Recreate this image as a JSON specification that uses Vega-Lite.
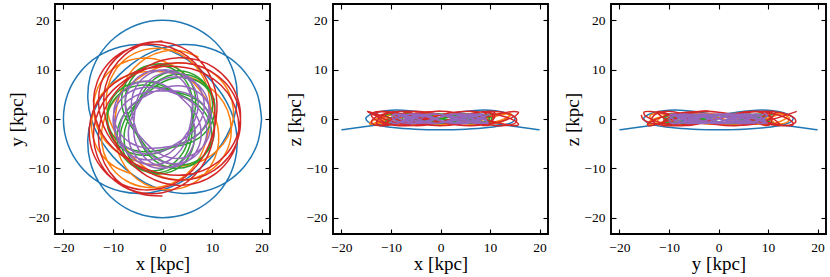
{
"$schema": "https://vega.github.io/schema/vega-lite/v6.json",
"padding": {"left": 6, "top": 2, "right": 0, "bottom": 0},
"background": "white",
"spacing": 63,
"bounds": "flush",
"config": {
  "font": "Liberation Serif",
  "style": {"guide-label": {"font": "Liberation Serif", "fill": "black"}, "guide-title": {"font": "Liberation Serif", "fill": "black"}},
  "view": {"stroke": "black", "strokeWidth": 1.9},
  "axis": {"grid": false, "domain": false, "tickColor": "black", "tickSize": -5, "tickWidth": 1.1, "labelFont": "Liberation Serif", "labelFontSize": 13.5, "labelColor": "black", "labelPadding": 11, "titleFont": "Liberation Serif", "titleFontSize": 19, "titleFontWeight": "normal", "titleColor": "black", "titlePadding": 1}
},
"data": {"values": [
{"o":"a","k":0,"x":20,"y":0,"z":-2.2},
{"o":"a","k":1,"x":19.11,"y":5.12,"z":-2.08},
{"o":"a","k":2,"x":16.56,"y":9.56,"z":-1.73},
{"o":"a","k":3,"x":12.82,"y":12.82,"z":-1.2},
{"o":"a","k":4,"x":8.45,"y":14.64,"z":-0.55},
{"o":"a","k":5,"x":4.04,"y":15.07,"z":0.15},
{"o":"a","k":6,"x":0,"y":14.38,"z":0.8},
{"o":"a","k":7,"x":-3.47,"y":12.93,"z":1.33},
{"o":"a","k":8,"x":-6.37,"y":11.02,"z":1.68},
{"o":"a","k":9,"x":-8.84,"y":8.84,"z":1.8},
{"o":"a","k":10,"x":-11.02,"y":6.37,"z":1.68},
{"o":"a","k":11,"x":-12.93,"y":3.47,"z":1.33},
{"o":"a","k":12,"x":-14.38,"y":0,"z":0.8},
{"o":"a","k":13,"x":-15.07,"y":-4.04,"z":0.15},
{"o":"a","k":14,"x":-14.64,"y":-8.45,"z":-0.55},
{"o":"a","k":15,"x":-12.82,"y":-12.82,"z":-1.2},
{"o":"a","k":16,"x":-9.56,"y":-16.56,"z":-1.73},
{"o":"a","k":17,"x":-5.12,"y":-19.11,"z":-2.08},
{"o":"a","k":18,"x":0,"y":-20,"z":-2.2},
{"o":"a","k":19,"x":5.12,"y":-19.11,"z":-2.08},
{"o":"a","k":20,"x":9.56,"y":-16.56,"z":-1.73},
{"o":"a","k":21,"x":12.82,"y":-12.82,"z":-1.2},
{"o":"a","k":22,"x":14.64,"y":-8.45,"z":-0.55},
{"o":"a","k":23,"x":15.07,"y":-4.04,"z":0.15},
{"o":"a","k":24,"x":14.38,"y":0,"z":0.8},
{"o":"a","k":25,"x":12.93,"y":3.47,"z":1.33},
{"o":"a","k":26,"x":11.02,"y":6.37,"z":1.68},
{"o":"a","k":27,"x":8.84,"y":8.84,"z":1.8},
{"o":"a","k":28,"x":6.37,"y":11.02,"z":1.68},
{"o":"a","k":29,"x":3.47,"y":12.93,"z":1.33},
{"o":"a","k":30,"x":0,"y":14.38,"z":0.8},
{"o":"a","k":31,"x":-4.04,"y":15.07,"z":0.15},
{"o":"a","k":32,"x":-8.45,"y":14.64,"z":-0.55},
{"o":"a","k":33,"x":-12.82,"y":12.82,"z":-1.2},
{"o":"a","k":34,"x":-16.56,"y":9.56,"z":-1.73},
{"o":"a","k":35,"x":-19.11,"y":5.12,"z":-2.08},
{"o":"a","k":36,"x":-20,"y":0,"z":-2.2},
{"o":"a","k":37,"x":-19.11,"y":-5.12,"z":-2.08},
{"o":"a","k":38,"x":-16.56,"y":-9.56,"z":-1.73},
{"o":"a","k":39,"x":-12.82,"y":-12.82,"z":-1.2},
{"o":"a","k":40,"x":-8.45,"y":-14.64,"z":-0.55},
{"o":"a","k":41,"x":-4.04,"y":-15.07,"z":0.15},
{"o":"a","k":42,"x":0,"y":-14.38,"z":0.8},
{"o":"a","k":43,"x":3.47,"y":-12.93,"z":1.33},
{"o":"a","k":44,"x":6.37,"y":-11.02,"z":1.68},
{"o":"a","k":45,"x":8.84,"y":-8.84,"z":1.8},
{"o":"a","k":46,"x":11.02,"y":-6.37,"z":1.68},
{"o":"a","k":47,"x":12.93,"y":-3.47,"z":1.33},
{"o":"a","k":48,"x":14.38,"y":0,"z":0.8},
{"o":"a","k":49,"x":15.07,"y":4.04,"z":0.15},
{"o":"a","k":50,"x":14.64,"y":8.45,"z":-0.55},
{"o":"a","k":51,"x":12.82,"y":12.82,"z":-1.2},
{"o":"a","k":52,"x":9.56,"y":16.56,"z":-1.73},
{"o":"a","k":53,"x":5.12,"y":19.11,"z":-2.08},
{"o":"a","k":54,"x":0,"y":20,"z":-2.2},
{"o":"a","k":55,"x":-5.12,"y":19.11,"z":-2.08},
{"o":"a","k":56,"x":-9.56,"y":16.56,"z":-1.73},
{"o":"a","k":57,"x":-12.82,"y":12.82,"z":-1.2},
{"o":"a","k":58,"x":-14.64,"y":8.45,"z":-0.55},
{"o":"a","k":59,"x":-15.07,"y":4.04,"z":0.15},
{"o":"a","k":60,"x":-14.38,"y":0,"z":0.8},
{"o":"a","k":61,"x":-12.93,"y":-3.47,"z":1.33},
{"o":"a","k":62,"x":-11.02,"y":-6.37,"z":1.68},
{"o":"a","k":63,"x":-8.84,"y":-8.84,"z":1.8},
{"o":"a","k":64,"x":-6.37,"y":-11.02,"z":1.68},
{"o":"a","k":65,"x":-3.47,"y":-12.93,"z":1.33},
{"o":"a","k":66,"x":0,"y":-14.38,"z":0.8},
{"o":"a","k":67,"x":4.04,"y":-15.07,"z":0.15},
{"o":"a","k":68,"x":8.45,"y":-14.64,"z":-0.55},
{"o":"a","k":69,"x":12.82,"y":-12.82,"z":-1.2},
{"o":"a","k":70,"x":16.56,"y":-9.56,"z":-1.73},
{"o":"a","k":71,"x":19.11,"y":-5.12,"z":-2.08},
{"o":"a","k":72,"x":20,"y":0,"z":-2.2},
{"o":"b","k":0,"x":7.25,"y":12.56,"z":1.1},
{"o":"b","k":1,"x":3.7,"y":13.8,"z":0.84},
{"o":"b","k":2,"x":0,"y":13.67,"z":0.19},
{"o":"b","k":3,"x":-3.31,"y":12.34,"z":-0.55},
{"o":"b","k":4,"x":-5.87,"y":10.17,"z":-1.03},
{"o":"b","k":5,"x":-7.6,"y":7.6,"z":-1.03},
{"o":"b","k":6,"x":-8.64,"y":4.99,"z":-0.55},
{"o":"b","k":7,"x":-9.23,"y":2.48,"z":0.19},
{"o":"b","k":8,"x":-9.56,"y":0,"z":0.84},
{"o":"b","k":9,"x":-9.64,"y":-2.58,"z":1.1},
{"o":"b","k":10,"x":-9.31,"y":-5.38,"z":0.84},
{"o":"b","k":11,"x":-8.3,"y":-8.3,"z":0.19},
{"o":"b","k":12,"x":-6.39,"y":-11.06,"z":-0.55},
{"o":"b","k":13,"x":-3.54,"y":-13.21,"z":-1.03},
{"o":"b","k":14,"x":0,"y":-14.29,"z":-1.03},
{"o":"b","k":15,"x":3.76,"y":-14.01,"z":-0.55},
{"o":"b","k":16,"x":7.15,"y":-12.38,"z":0.19},
{"o":"b","k":17,"x":9.66,"y":-9.66,"z":0.84},
{"o":"b","k":18,"x":11.06,"y":-6.39,"z":1.1},
{"o":"b","k":19,"x":11.34,"y":-3.04,"z":0.84},
{"o":"b","k":20,"x":10.75,"y":0,"z":0.19},
{"o":"b","k":21,"x":9.64,"y":2.58,"z":-0.55},
{"o":"b","k":22,"x":8.28,"y":4.78,"z":-1.03},
{"o":"b","k":23,"x":6.76,"y":6.76,"z":-1.03},
{"o":"b","k":24,"x":4.99,"y":8.64,"z":-0.55},
{"o":"b","k":25,"x":2.78,"y":10.38,"z":0.19},
{"o":"b","k":26,"x":0,"y":11.74,"z":0.84},
{"o":"b","k":27,"x":-3.31,"y":12.34,"z":1.1},
{"o":"b","k":28,"x":-6.84,"y":11.84,"z":0.84},
{"o":"b","k":29,"x":-10.1,"y":10.1,"z":0.19},
{"o":"b","k":30,"x":-12.56,"y":7.25,"z":-0.55},
{"o":"b","k":31,"x":-13.8,"y":3.7,"z":-1.03},
{"o":"b","k":32,"x":-13.67,"y":0,"z":-1.03},
{"o":"b","k":33,"x":-12.34,"y":-3.31,"z":-0.55},
{"o":"b","k":34,"x":-10.17,"y":-5.87,"z":0.19},
{"o":"b","k":35,"x":-7.6,"y":-7.6,"z":0.84},
{"o":"b","k":36,"x":-4.99,"y":-8.64,"z":1.1},
{"o":"b","k":37,"x":-2.48,"y":-9.23,"z":0.84},
{"o":"b","k":38,"x":0,"y":-9.56,"z":0.19},
{"o":"b","k":39,"x":2.58,"y":-9.64,"z":-0.55},
{"o":"b","k":40,"x":5.38,"y":-9.31,"z":-1.03},
{"o":"b","k":41,"x":8.3,"y":-8.3,"z":-1.03},
{"o":"b","k":42,"x":11.06,"y":-6.39,"z":-0.55},
{"o":"b","k":43,"x":13.21,"y":-3.54,"z":0.19},
{"o":"b","k":44,"x":14.29,"y":0,"z":0.84},
{"o":"b","k":45,"x":14.01,"y":3.76,"z":1.1},
{"o":"b","k":46,"x":12.38,"y":7.15,"z":0.84},
{"o":"b","k":47,"x":9.66,"y":9.66,"z":0.19},
{"o":"b","k":48,"x":6.39,"y":11.06,"z":-0.55},
{"o":"b","k":49,"x":3.04,"y":11.34,"z":-1.03},
{"o":"b","k":50,"x":0,"y":10.75,"z":-1.03},
{"o":"b","k":51,"x":-2.58,"y":9.64,"z":-0.55},
{"o":"b","k":52,"x":-4.78,"y":8.28,"z":0.19},
{"o":"b","k":53,"x":-6.76,"y":6.76,"z":0.84},
{"o":"b","k":54,"x":-8.64,"y":4.99,"z":1.1},
{"o":"b","k":55,"x":-10.38,"y":2.78,"z":0.84},
{"o":"b","k":56,"x":-11.74,"y":0,"z":0.19},
{"o":"b","k":57,"x":-12.34,"y":-3.31,"z":-0.55},
{"o":"b","k":58,"x":-11.84,"y":-6.84,"z":-1.03},
{"o":"b","k":59,"x":-10.1,"y":-10.1,"z":-1.03},
{"o":"b","k":60,"x":-7.25,"y":-12.56,"z":-0.55},
{"o":"b","k":61,"x":-3.7,"y":-13.8,"z":0.19},
{"o":"b","k":62,"x":0,"y":-13.67,"z":0.84},
{"o":"b","k":63,"x":3.31,"y":-12.34,"z":1.1},
{"o":"b","k":64,"x":5.87,"y":-10.17,"z":0.84},
{"o":"b","k":65,"x":7.6,"y":-7.6,"z":0.19},
{"o":"b","k":66,"x":8.64,"y":-4.99,"z":-0.55},
{"o":"b","k":67,"x":9.23,"y":-2.48,"z":-1.03},
{"o":"b","k":68,"x":9.56,"y":0,"z":-1.03},
{"o":"b","k":69,"x":9.64,"y":2.58,"z":-0.55},
{"o":"b","k":70,"x":9.31,"y":5.38,"z":0.19},
{"o":"b","k":71,"x":8.3,"y":8.3,"z":0.84},
{"o":"b","k":72,"x":6.39,"y":11.06,"z":1.1},
{"o":"b","k":73,"x":3.54,"y":13.21,"z":0.84},
{"o":"b","k":74,"x":0,"y":14.29,"z":0.19},
{"o":"b","k":75,"x":-3.76,"y":14.01,"z":-0.55},
{"o":"b","k":76,"x":-7.15,"y":12.38,"z":-1.03},
{"o":"b","k":77,"x":-9.66,"y":9.66,"z":-1.03},
{"o":"b","k":78,"x":-11.06,"y":6.39,"z":-0.55},
{"o":"b","k":79,"x":-11.34,"y":3.04,"z":0.19},
{"o":"b","k":80,"x":-10.75,"y":0,"z":0.84},
{"o":"b","k":81,"x":-9.64,"y":-2.58,"z":1.1},
{"o":"b","k":82,"x":-8.28,"y":-4.78,"z":0.84},
{"o":"b","k":83,"x":-6.76,"y":-6.76,"z":0.19},
{"o":"b","k":84,"x":-4.99,"y":-8.64,"z":-0.55},
{"o":"b","k":85,"x":-2.78,"y":-10.38,"z":-1.03},
{"o":"b","k":86,"x":0,"y":-11.74,"z":-1.03},
{"o":"b","k":87,"x":3.31,"y":-12.34,"z":-0.55},
{"o":"b","k":88,"x":6.84,"y":-11.84,"z":0.19},
{"o":"b","k":89,"x":10.1,"y":-10.1,"z":0.84},
{"o":"b","k":90,"x":12.56,"y":-7.25,"z":1.1},
{"o":"b","k":91,"x":13.8,"y":-3.7,"z":0.84},
{"o":"b","k":92,"x":13.67,"y":0,"z":0.19},
{"o":"b","k":93,"x":12.34,"y":3.31,"z":-0.55},
{"o":"b","k":94,"x":10.17,"y":5.87,"z":-1.03},
{"o":"b","k":95,"x":7.6,"y":7.6,"z":-1.03},
{"o":"b","k":96,"x":4.99,"y":8.64,"z":-0.55},
{"o":"b","k":97,"x":2.48,"y":9.23,"z":0.19},
{"o":"b","k":98,"x":0,"y":9.56,"z":0.84},
{"o":"b","k":99,"x":-2.58,"y":9.64,"z":1.1},
{"o":"b","k":100,"x":-5.38,"y":9.31,"z":0.84},
{"o":"b","k":101,"x":-8.3,"y":8.3,"z":0.19},
{"o":"b","k":102,"x":-11.06,"y":6.39,"z":-0.55},
{"o":"b","k":103,"x":-13.21,"y":3.54,"z":-1.03},
{"o":"b","k":104,"x":-14.29,"y":0,"z":-1.03},
{"o":"b","k":105,"x":-14.01,"y":-3.76,"z":-0.55},
{"o":"b","k":106,"x":-12.38,"y":-7.15,"z":0.19},
{"o":"b","k":107,"x":-9.66,"y":-9.66,"z":0.84},
{"o":"b","k":108,"x":-6.39,"y":-11.06,"z":1.1},
{"o":"c","k":0,"x":10.53,"y":3.83,"z":1.0},
{"o":"c","k":1,"x":8.26,"y":6.93,"z":0.66},
{"o":"c","k":2,"x":4.83,"y":8.37,"z":-0.12},
{"o":"c","k":3,"x":1.43,"y":8.07,"z":-0.77},
{"o":"c","k":4,"x":-1.19,"y":6.76,"z":-0.84},
{"o":"c","k":5,"x":-3.05,"y":5.27,"z":-0.27},
{"o":"c","k":6,"x":-4.7,"y":3.94,"z":0.53},
{"o":"c","k":7,"x":-6.54,"y":2.38,"z":0.99},
{"o":"c","k":8,"x":-8.33,"y":0,"z":0.78},
{"o":"c","k":9,"x":-9.19,"y":-3.34,"z":0.05},
{"o":"c","k":10,"x":-8.31,"y":-6.98,"z":-0.68},
{"o":"c","k":11,"x":-5.6,"y":-9.7,"z":-0.89},
{"o":"c","k":12,"x":-1.86,"y":-10.54,"z":-0.43},
{"o":"c","k":13,"x":1.66,"y":-9.39,"z":0.37},
{"o":"c","k":14,"x":4.03,"y":-6.98,"z":0.94},
{"o":"c","k":15,"x":5.18,"y":-4.35,"z":0.87},
{"o":"c","k":16,"x":5.7,"y":-2.07,"z":0.22},
{"o":"c","k":17,"x":6.17,"y":0,"z":-0.56},
{"o":"c","k":18,"x":6.65,"y":2.42,"z":-0.9},
{"o":"c","k":19,"x":6.48,"y":5.44,"z":-0.56},
{"o":"c","k":20,"x":4.95,"y":8.57,"z":0.22},
{"o":"c","k":21,"x":1.9,"y":10.76,"z":0.87},
{"o":"c","k":22,"x":-1.95,"y":11.02,"z":0.94},
{"o":"c","k":23,"x":-5.31,"y":9.2,"z":0.37},
{"o":"c","k":24,"x":-7.2,"y":6.04,"z":-0.43},
{"o":"c","k":25,"x":-7.45,"y":2.71,"z":-0.89},
{"o":"c","k":26,"x":-6.67,"y":0,"z":-0.68},
{"o":"c","k":27,"x":-5.67,"y":-2.06,"z":0.05},
{"o":"c","k":28,"x":-4.76,"y":-4.0,"z":0.78},
{"o":"c","k":29,"x":-3.59,"y":-6.22,"z":0.99},
{"o":"c","k":30,"x":-1.5,"y":-8.47,"z":0.53},
{"o":"c","k":31,"x":1.74,"y":-9.87,"z":-0.27},
{"o":"c","k":32,"x":5.49,"y":-9.51,"z":-0.84},
{"o":"c","k":33,"x":8.56,"y":-7.18,"z":-0.77},
{"o":"c","k":34,"x":9.9,"y":-3.6,"z":-0.12},
{"o":"c","k":35,"x":9.27,"y":0,"z":0.66},
{"o":"c","k":36,"x":7.33,"y":2.67,"z":1.0},
{"o":"c","k":37,"x":5.04,"y":4.23,"z":0.66},
{"o":"c","k":38,"x":3.01,"y":5.2,"z":-0.12},
{"o":"c","k":39,"x":1.09,"y":6.19,"z":-0.77},
{"o":"c","k":40,"x":-1.27,"y":7.19,"z":-0.84},
{"o":"c","k":41,"x":-4.37,"y":7.57,"z":-0.27},
{"o":"c","k":42,"x":-7.76,"y":6.51,"z":0.53},
{"o":"c","k":43,"x":-10.37,"y":3.77,"z":0.99},
{"o":"c","k":44,"x":-11.14,"y":0,"z":0.78},
{"o":"c","k":45,"x":-9.81,"y":-3.57,"z":0.05},
{"o":"c","k":46,"x":-7.0,"y":-5.88,"z":-0.68},
{"o":"c","k":47,"x":-3.84,"y":-6.64,"z":-0.89},
{"o":"c","k":48,"x":-1.13,"y":-6.4,"z":-0.43},
{"o":"c","k":49,"x":1.04,"y":-5.91,"z":0.37},
{"o":"c","k":50,"x":3.18,"y":-5.5,"z":0.94},
{"o":"c","k":51,"x":5.68,"y":-4.77,"z":0.87},
{"o":"c","k":52,"x":8.34,"y":-3.03,"z":0.22},
{"o":"c","k":53,"x":10.24,"y":0,"z":-0.56},
{"o":"c","k":54,"x":10.41,"y":3.79,"z":-0.9},
{"o":"c","k":55,"x":8.51,"y":7.14,"z":-0.56},
{"o":"c","k":56,"x":5.17,"y":8.95,"z":0.22},
{"o":"c","k":57,"x":1.57,"y":8.87,"z":0.87},
{"o":"c","k":58,"x":-1.31,"y":7.43,"z":0.94},
{"o":"c","k":59,"x":-3.21,"y":5.56,"z":0.37},
{"o":"c","k":60,"x":-4.6,"y":3.86,"z":-0.43},
{"o":"c","k":61,"x":-6.03,"y":2.2,"z":-0.89},
{"o":"c","k":62,"x":-7.54,"y":0,"z":-0.68},
{"o":"c","k":63,"x":-8.47,"y":-3.08,"z":0.05},
{"o":"c","k":64,"x":-7.92,"y":-6.65,"z":0.78},
{"o":"c","k":65,"x":-5.56,"y":-9.62,"z":0.99},
{"o":"c","k":66,"x":-1.93,"y":-10.9,"z":0.53},
{"o":"c","k":67,"x":1.78,"y":-10.09,"z":-0.27},
{"o":"c","k":68,"x":4.44,"y":-7.68,"z":-0.84},
{"o":"c","k":69,"x":5.68,"y":-4.77,"z":-0.77},
{"o":"c","k":70,"x":5.97,"y":-2.17,"z":-0.12},
{"o":"c","k":71,"x":6.0,"y":0,"z":0.66},
{"o":"c","k":72,"x":6.11,"y":2.22,"z":1.0},
{"o":"c","k":73,"x":5.88,"y":4.93,"z":0.66},
{"o":"c","k":74,"x":4.57,"y":7.92,"z":-0.12},
{"o":"c","k":75,"x":1.82,"y":10.28,"z":-0.77},
{"o":"c","k":76,"x":-1.94,"y":10.97,"z":-0.84},
{"o":"c","k":77,"x":-5.52,"y":9.55,"z":-0.27},
{"o":"c","k":78,"x":-7.76,"y":6.51,"z":0.53},
{"o":"c","k":79,"x":-8.22,"y":2.99,"z":0.99},
{"o":"c","k":80,"x":-7.3,"y":0,"z":0.78},
{"o":"c","k":81,"x":-5.9,"y":-2.15,"z":0.05},
{"o":"c","k":82,"x":-4.6,"y":-3.86,"z":-0.68},
{"o":"c","k":83,"x":-3.29,"y":-5.7,"z":-0.89},
{"o":"c","k":84,"x":-1.36,"y":-7.68,"z":-0.43},
{"o":"c","k":85,"x":1.61,"y":-9.13,"z":0.37},
{"o":"c","k":86,"x":5.27,"y":-9.12,"z":0.94},
{"o":"c","k":87,"x":8.56,"y":-7.18,"z":0.87},
{"o":"c","k":88,"x":10.32,"y":-3.76,"z":0.22},
{"o":"c","k":89,"x":10.02,"y":0,"z":-0.56},
{"o":"c","k":90,"x":8.08,"y":2.94,"z":-0.9},
{"o":"c","k":91,"x":5.5,"y":4.62,"z":-0.56},
{"o":"c","k":92,"x":3.11,"y":5.39,"z":0.22},
{"o":"c","k":93,"x":1.05,"y":5.94,"z":0.87},
{"o":"c","k":94,"x":-1.16,"y":6.57,"z":0.94},
{"o":"c","k":95,"x":-3.97,"y":6.87,"z":0.37},
{"o":"c","k":96,"x":-7.2,"y":6.04,"z":-0.43},
{"o":"c","k":97,"x":-9.98,"y":3.63,"z":-0.89},
{"o":"c","k":98,"x":-11.19,"y":0,"z":-0.68},
{"o":"c","k":99,"x":-10.26,"y":-3.73,"z":0.05},
{"o":"c","k":100,"x":-7.58,"y":-6.37,"z":0.78},
{"o":"c","k":101,"x":-4.23,"y":-7.33,"z":0.99},
{"o":"c","k":102,"x":-1.23,"y":-6.96,"z":0.53},
{"o":"c","k":103,"x":1.07,"y":-6.08,"z":-0.27},
{"o":"c","k":104,"x":3.03,"y":-5.25,"z":-0.84},
{"o":"c","k":105,"x":5.18,"y":-4.35,"z":-0.77},
{"o":"c","k":106,"x":7.58,"y":-2.76,"z":-0.12},
{"o":"c","k":107,"x":9.53,"y":0,"z":0.66},
{"o":"c","k":108,"x":10.06,"y":3.66,"z":1.0},
{"o":"c","k":109,"x":8.58,"y":7.2,"z":0.66},
{"o":"c","k":110,"x":5.43,"y":9.4,"z":-0.12},
{"o":"c","k":111,"x":1.7,"y":9.63,"z":-0.77},
{"o":"c","k":112,"x":-1.45,"y":8.21,"z":-0.84},
{"o":"c","k":113,"x":-3.48,"y":6.03,"z":-0.27},
{"o":"c","k":114,"x":-4.7,"y":3.94,"z":0.53},
{"o":"c","k":115,"x":-5.72,"y":2.08,"z":0.99},
{"o":"c","k":116,"x":-6.86,"y":0,"z":0.78},
{"o":"c","k":117,"x":-7.7,"y":-2.8,"z":0.05},
{"o":"c","k":118,"x":-7.4,"y":-6.21,"z":-0.68},
{"o":"c","k":119,"x":-5.39,"y":-9.34,"z":-0.89},
{"o":"c","k":120,"x":-1.95,"y":-11.03,"z":-0.43},
{"o":"c","k":121,"x":1.88,"y":-10.62,"z":0.37},
{"o":"c","k":122,"x":4.83,"y":-8.37,"z":0.94},
{"o":"c","k":123,"x":6.27,"y":-5.27,"z":0.87},
{"o":"c","k":124,"x":6.45,"y":-2.35,"z":0.22},
{"o":"c","k":125,"x":6.09,"y":0,"z":-0.56},
{"o":"c","k":126,"x":5.76,"y":2.1,"z":-0.9},
{"o":"d","k":0,"x":0,"y":15.8,"z":1.55},
{"o":"d","k":1,"x":-4.04,"y":15.08,"z":1.29},
{"o":"d","k":2,"x":-7.54,"y":13.05,"z":0.6},
{"o":"d","k":3,"x":-10.08,"y":10.08,"z":-0.28},
{"o":"d","k":4,"x":-11.51,"y":6.65,"z":-1.01},
{"o":"d","k":5,"x":-11.89,"y":3.19,"z":-1.34},
{"o":"d","k":6,"x":-11.46,"y":0,"z":-1.16},
{"o":"d","k":7,"x":-10.49,"y":-2.81,"z":-0.51},
{"o":"d","k":8,"x":-9.19,"y":-5.31,"z":0.35},
{"o":"d","k":9,"x":-7.59,"y":-7.59,"z":1.13},
{"o":"d","k":10,"x":-5.61,"y":-9.71,"z":1.53},
{"o":"d","k":11,"x":-3.1,"y":-11.57,"z":1.41},
{"o":"d","k":12,"x":0,"y":-12.93,"z":0.83},
{"o":"d","k":13,"x":3.61,"y":-13.45,"z":-0.03},
{"o":"d","k":14,"x":7.4,"y":-12.82,"z":-0.83},
{"o":"d","k":15,"x":10.92,"y":-10.92,"z":-1.3},
{"o":"d","k":16,"x":13.66,"y":-7.89,"z":-1.26},
{"o":"d","k":17,"x":15.19,"y":-4.07,"z":-0.73},
{"o":"d","k":18,"x":15.3,"y":0,"z":0.1},
{"o":"d","k":19,"x":14.08,"y":3.78,"z":0.93},
{"o":"d","k":20,"x":11.82,"y":6.83,"z":1.46},
{"o":"d","k":21,"x":8.95,"y":8.95,"z":1.5},
{"o":"d","k":22,"x":5.88,"y":10.18,"z":1.03},
{"o":"d","k":23,"x":2.86,"y":10.66,"z":0.23},
{"o":"d","k":24,"x":0,"y":10.66,"z":-0.63},
{"o":"d","k":25,"x":-2.76,"y":10.28,"z":-1.21},
{"o":"d","k":26,"x":-5.5,"y":9.53,"z":-1.33},
{"o":"d","k":27,"x":-8.25,"y":8.25,"z":-0.93},
{"o":"d","k":28,"x":-10.89,"y":6.29,"z":-0.15},
{"o":"d","k":29,"x":-13.1,"y":3.51,"z":0.71},
{"o":"d","k":30,"x":-14.5,"y":0,"z":1.36},
{"o":"d","k":31,"x":-14.73,"y":-3.95,"z":1.54},
{"o":"d","k":32,"x":-13.6,"y":-7.85,"z":1.21},
{"o":"d","k":33,"x":-11.16,"y":-11.16,"z":0.48},
{"o":"d","k":34,"x":-7.75,"y":-13.42,"z":-0.4},
{"o":"d","k":35,"x":-3.85,"y":-14.36,"z":-1.09},
{"o":"d","k":36,"x":0,"y":-14.0,"z":-1.35},
{"o":"d","k":37,"x":3.37,"y":-12.58,"z":-1.09},
{"o":"d","k":38,"x":6.03,"y":-10.44,"z":-0.4},
{"o":"d","k":39,"x":7.97,"y":-7.97,"z":0.48},
{"o":"d","k":40,"x":9.32,"y":-5.38,"z":1.21},
{"o":"d","k":41,"x":10.24,"y":-2.75,"z":1.54},
{"o":"d","k":42,"x":10.82,"y":0,"z":1.36},
{"o":"d","k":43,"x":11.0,"y":2.95,"z":0.71},
{"o":"d","k":44,"x":10.59,"y":6.12,"z":-0.15},
{"o":"d","k":45,"x":9.33,"y":9.33,"z":-0.93},
{"o":"d","k":46,"x":7.09,"y":12.28,"z":-1.33},
{"o":"d","k":47,"x":3.89,"y":14.5,"z":-1.21},
{"o":"d","k":48,"x":0,"y":15.58,"z":-0.63},
{"o":"d","k":49,"x":-4.09,"y":15.26,"z":0.23},
{"o":"d","k":50,"x":-7.82,"y":13.54,"z":1.03},
{"o":"d","k":51,"x":-10.7,"y":10.7,"z":1.5},
{"o":"d","k":52,"x":-12.42,"y":7.17,"z":1.46},
{"o":"d","k":53,"x":-12.93,"y":3.47,"z":0.93},
{"o":"d","k":54,"x":-12.4,"y":0,"z":0.1},
{"o":"d","k":55,"x":-11.14,"y":-2.99,"z":-0.73},
{"o":"d","k":56,"x":-9.44,"y":-5.45,"z":-1.26},
{"o":"d","k":57,"x":-7.5,"y":-7.5,"z":-1.3},
{"o":"d","k":58,"x":-5.35,"y":-9.27,"z":-0.83},
{"o":"d","k":59,"x":-2.89,"y":-10.77,"z":-0.03},
{"o":"d","k":60,"x":0,"y":-11.9,"z":0.83},
{"o":"d","k":61,"x":3.33,"y":-12.4,"z":1.41},
{"o":"d","k":62,"x":6.92,"y":-11.98,"z":1.53},
{"o":"d","k":63,"x":10.41,"y":-10.41,"z":1.13},
{"o":"d","k":64,"x":13.34,"y":-7.7,"z":0.35},
{"o":"d","k":65,"x":15.22,"y":-4.08,"z":-0.51},
{"o":"d","k":66,"x":15.74,"y":0,"z":-1.16},
{"o":"d","k":67,"x":14.84,"y":3.98,"z":-1.34},
{"o":"d","k":68,"x":12.69,"y":7.33,"z":-1.01},
{"o":"d","k":69,"x":9.71,"y":9.71,"z":-0.28},
{"o":"d","k":70,"x":6.38,"y":11.04,"z":0.6},
{"o":"d","k":71,"x":3.06,"y":11.42,"z":1.29},
{"o":"d","k":72,"x":0,"y":11.1,"z":1.55},
{"o":"d","k":73,"x":-2.77,"y":10.32,"z":1.29},
{"o":"d","k":74,"x":-5.32,"y":9.21,"z":0.6},
{"o":"d","k":75,"x":-7.74,"y":7.74,"z":-0.28},
{"o":"d","k":76,"x":-10.05,"y":5.8,"z":-1.01},
{"o":"d","k":77,"x":-12.06,"y":3.23,"z":-1.34},
{"o":"d","k":78,"x":-13.47,"y":0,"z":-1.16},
{"o":"d","k":79,"x":-13.93,"y":-3.73,"z":-0.51},
{"o":"d","k":80,"x":-13.15,"y":-7.6,"z":0.35},
{"o":"d","k":81,"x":-11.08,"y":-11.08,"z":1.13},
{"o":"d","k":82,"x":-7.9,"y":-13.67,"z":1.53},
{"o":"d","k":83,"x":-4.02,"y":-15.01,"z":1.41},
{"o":"d","k":84,"x":0,"y":-14.94,"z":0.83},
{"o":"d","k":85,"x":3.65,"y":-13.61,"z":-0.03},
{"o":"d","k":86,"x":6.56,"y":-11.35,"z":-0.83},
{"o":"d","k":87,"x":8.58,"y":-8.58,"z":-1.3},
{"o":"d","k":88,"x":9.81,"y":-5.67,"z":-1.26},
{"o":"d","k":89,"x":10.42,"y":-2.79,"z":-0.73},
{"o":"d","k":90,"x":10.6,"y":0,"z":0.1},
{"o":"d","k":91,"x":10.42,"y":2.79,"z":0.93},
{"o":"d","k":92,"x":9.81,"y":5.67,"z":1.46},
{"o":"d","k":93,"x":8.58,"y":8.58,"z":1.5},
{"o":"d","k":94,"x":6.56,"y":11.35,"z":1.03},
{"o":"d","k":95,"x":3.65,"y":13.61,"z":0.23},
{"o":"d","k":96,"x":0,"y":14.94,"z":-0.63},
{"o":"d","k":97,"x":-4.02,"y":15.01,"z":-1.21},
{"o":"d","k":98,"x":-7.9,"y":13.67,"z":-1.33},
{"o":"d","k":99,"x":-11.08,"y":11.08,"z":-0.93},
{"o":"d","k":100,"x":-13.15,"y":7.6,"z":-0.15},
{"o":"d","k":101,"x":-13.93,"y":3.73,"z":0.71},
{"o":"d","k":102,"x":-13.47,"y":0,"z":1.36},
{"o":"d","k":103,"x":-12.06,"y":-3.23,"z":1.54},
{"o":"d","k":104,"x":-10.05,"y":-5.8,"z":1.21},
{"o":"d","k":105,"x":-7.74,"y":-7.74,"z":0.48},
{"o":"d","k":106,"x":-5.32,"y":-9.21,"z":-0.4},
{"o":"d","k":107,"x":-2.77,"y":-10.32,"z":-1.09},
{"o":"d","k":108,"x":0,"y":-11.1,"z":-1.35},
{"o":"d","k":109,"x":3.06,"y":-11.42,"z":-1.09},
{"o":"d","k":110,"x":6.38,"y":-11.04,"z":-0.4},
{"o":"d","k":111,"x":9.71,"y":-9.71,"z":0.48},
{"o":"d","k":112,"x":12.69,"y":-7.33,"z":1.21},
{"o":"d","k":113,"x":14.84,"y":-3.98,"z":1.54},
{"o":"d","k":114,"x":15.74,"y":0,"z":1.36},
{"o":"d","k":115,"x":15.22,"y":4.08,"z":0.71},
{"o":"d","k":116,"x":13.34,"y":7.7,"z":-0.15},
{"o":"d","k":117,"x":10.41,"y":10.41,"z":-0.93},
{"o":"d","k":118,"x":6.92,"y":11.98,"z":-1.33},
{"o":"d","k":119,"x":3.33,"y":12.4,"z":-1.21},
{"o":"d","k":120,"x":0,"y":11.9,"z":-0.63},
{"o":"d","k":121,"x":-2.89,"y":10.77,"z":0.23},
{"o":"d","k":122,"x":-5.35,"y":9.27,"z":1.03},
{"o":"d","k":123,"x":-7.5,"y":7.5,"z":1.5},
{"o":"d","k":124,"x":-9.44,"y":5.45,"z":1.46},
{"o":"d","k":125,"x":-11.14,"y":2.99,"z":0.93},
{"o":"d","k":126,"x":-12.4,"y":0,"z":0.1},
{"o":"d","k":127,"x":-12.93,"y":-3.47,"z":-0.73},
{"o":"d","k":128,"x":-12.42,"y":-7.17,"z":-1.26},
{"o":"d","k":129,"x":-10.7,"y":-10.7,"z":-1.3},
{"o":"d","k":130,"x":-7.82,"y":-13.54,"z":-0.83},
{"o":"d","k":131,"x":-4.09,"y":-15.26,"z":-0.03},
{"o":"d","k":132,"x":0,"y":-15.58,"z":0.83},
{"o":"e","k":0,"x":10,"y":0,"z":1.0},
{"o":"e","k":1,"x":9.11,"y":3.31,"z":0.6},
{"o":"e","k":2,"x":6.79,"y":5.7,"z":-0.27},
{"o":"e","k":3,"x":3.87,"y":6.7,"z":-0.87},
{"o":"e","k":4,"x":1.16,"y":6.55,"z":-0.68},
{"o":"e","k":5,"x":-1.03,"y":5.81,"z":0.13},
{"o":"e","k":6,"x":-2.86,"y":4.94,"z":0.87},
{"o":"e","k":7,"x":-4.7,"y":3.94,"z":0.91},
{"o":"e","k":8,"x":-6.62,"y":2.41,"z":0.22},
{"o":"e","k":9,"x":-8.19,"y":0,"z":-0.62},
{"o":"e","k":10,"x":-8.68,"y":-3.16,"z":-0.89},
{"o":"e","k":11,"x":-7.57,"y":-6.35,"z":-0.35},
{"o":"e","k":12,"x":-4.98,"y":-8.62,"z":0.53},
{"o":"e","k":13,"x":-1.64,"y":-9.28,"z":1.0},
{"o":"e","k":14,"x":1.47,"y":-8.31,"z":0.66},
{"o":"e","k":15,"x":3.65,"y":-6.31,"z":-0.2},
{"o":"e","k":16,"x":4.83,"y":-4.05,"z":-0.84},
{"o":"e","k":17,"x":5.41,"y":-1.97,"z":-0.73},
{"o":"e","k":18,"x":5.81,"y":0,"z":0.05},
{"o":"e","k":19,"x":6.05,"y":2.2,"z":0.83},
{"o":"e","k":20,"x":5.73,"y":4.81,"z":0.94},
{"o":"e","k":21,"x":4.31,"y":7.46,"z":0.3},
{"o":"e","k":22,"x":1.66,"y":9.4,"z":-0.56},
{"o":"e","k":23,"x":-1.74,"y":9.83,"z":-0.9},
{"o":"e","k":24,"x":-4.91,"y":8.5,"z":-0.43},
{"o":"e","k":25,"x":-6.96,"y":5.84,"z":0.45},
{"o":"e","k":26,"x":-7.52,"y":2.74,"z":0.99},
{"o":"e","k":27,"x":-6.87,"y":0,"z":0.72},
{"o":"e","k":28,"x":-5.67,"y":-2.06,"z":-0.12},
{"o":"e","k":29,"x":-4.37,"y":-3.67,"z":-0.81},
{"o":"e","k":30,"x":-3.0,"y":-5.19,"z":-0.77},
{"o":"e","k":31,"x":-1.18,"y":-6.71,"z":-0.03},
{"o":"e","k":32,"x":1.38,"y":-7.81,"z":0.78},
{"o":"e","k":33,"x":4.51,"y":-7.81,"z":0.97},
{"o":"e","k":34,"x":7.49,"y":-6.29,"z":0.37},
{"o":"e","k":35,"x":9.39,"y":-3.42,"z":-0.5},
{"o":"e","k":36,"x":9.59,"y":0,"z":-0.9},
{"o":"e","k":37,"x":8.17,"y":2.97,"z":-0.5},
{"o":"e","k":38,"x":5.78,"y":4.85,"z":0.37},
{"o":"e","k":39,"x":3.25,"y":5.63,"z":0.97},
{"o":"e","k":40,"x":1.01,"y":5.74,"z":0.78},
{"o":"e","k":41,"x":-1.0,"y":5.65,"z":-0.03},
{"o":"e","k":42,"x":-3.13,"y":5.41,"z":-0.77},
{"o":"e","k":43,"x":-5.53,"y":4.64,"z":-0.81},
{"o":"e","k":44,"x":-7.87,"y":2.86,"z":-0.12},
{"o":"e","k":45,"x":-9.37,"y":0,"z":0.72},
{"o":"e","k":46,"x":-9.34,"y":-3.4,"z":0.99},
{"o":"e","k":47,"x":-7.59,"y":-6.37,"z":0.45},
{"o":"e","k":48,"x":-4.65,"y":-8.05,"z":-0.43},
{"o":"e","k":49,"x":-1.44,"y":-8.14,"z":-0.9},
{"o":"e","k":50,"x":1.24,"y":-7.0,"z":-0.56},
{"o":"e","k":51,"x":3.09,"y":-5.35,"z":0.3},
{"o":"e","k":52,"x":4.38,"y":-3.68,"z":0.94},
{"o":"e","k":53,"x":5.52,"y":-2.01,"z":0.83},
{"o":"e","k":54,"x":6.59,"y":0,"z":0.05},
{"o":"e","k":55,"x":7.2,"y":2.62,"z":-0.73},
{"o":"e","k":56,"x":6.73,"y":5.65,"z":-0.84},
{"o":"e","k":57,"x":4.83,"y":8.36,"z":-0.2},
{"o":"e","k":58,"x":1.74,"y":9.85,"z":0.66},
{"o":"e","k":59,"x":-1.69,"y":9.58,"z":1.0},
{"o":"e","k":60,"x":-4.47,"y":7.73,"z":0.53},
{"o":"e","k":61,"x":-5.98,"y":5.02,"z":-0.35},
{"o":"e","k":62,"x":-6.31,"y":2.29,"z":-0.89},
{"o":"e","k":63,"x":-5.93,"y":0,"z":-0.62},
{"o":"e","k":64,"x":-5.36,"y":-1.95,"z":0.22},
{"o":"e","k":65,"x":-4.66,"y":-3.92,"z":0.91},
{"o":"e","k":66,"x":-3.49,"y":-6.04,"z":0.87},
{"o":"e","k":67,"x":-1.41,"y":-7.99,"z":0.13},
{"o":"e","k":68,"x":1.6,"y":-9.03,"z":-0.68},
{"o":"e","k":69,"x":4.93,"y":-8.54,"z":-0.87},
{"o":"e","k":70,"x":7.64,"y":-6.41,"z":-0.27},
{"o":"e","k":71,"x":8.9,"y":-3.24,"z":0.6},
{"o":"e","k":72,"x":8.51,"y":0,"z":1.0},
{"o":"e","k":73,"x":6.93,"y":2.52,"z":0.6},
{"o":"e","k":74,"x":4.87,"y":4.09,"z":-0.27},
{"o":"e","k":75,"x":2.89,"y":5.0,"z":-0.87},
{"o":"e","k":76,"x":1.01,"y":5.69,"z":-0.68},
{"o":"e","k":77,"x":-1.11,"y":6.28,"z":0.13},
{"o":"e","k":78,"x":-3.7,"y":6.41,"z":0.87},
{"o":"e","k":79,"x":-6.55,"y":5.5,"z":0.91},
{"o":"e","k":80,"x":-8.93,"y":3.25,"z":0.22},
{"o":"e","k":81,"x":-9.97,"y":0,"z":-0.62},
{"o":"e","k":82,"x":-9.25,"y":-3.37,"z":-0.89},
{"o":"e","k":83,"x":-7.0,"y":-5.88,"z":-0.35},
{"o":"e","k":84,"x":-4.04,"y":-7.0,"z":0.53},
{"o":"e","k":85,"x":-1.21,"y":-6.84,"z":1.0},
{"o":"e","k":86,"x":1.06,"y":-5.98,"z":0.66},
{"o":"e","k":87,"x":2.85,"y":-4.94,"z":-0.2},
{"o":"e","k":88,"x":4.56,"y":-3.83,"z":-0.84},
{"o":"e","k":89,"x":6.34,"y":-2.31,"z":-0.73},
{"o":"e","k":90,"x":7.85,"y":0,"z":0.05},
{"o":"e","k":91,"x":8.42,"y":3.06,"z":0.83},
{"o":"e","k":92,"x":7.47,"y":6.27,"z":0.94},
{"o":"e","k":93,"x":5.0,"y":8.66,"z":0.3},
{"o":"e","k":94,"x":1.68,"y":9.49,"z":-0.56},
{"o":"e","k":95,"x":-1.52,"y":8.63,"z":-0.9},
{"o":"e","k":96,"x":-3.81,"y":6.6,"z":-0.43},
{"o":"e","k":97,"x":-5.02,"y":4.22,"z":0.45},
{"o":"e","k":98,"x":-5.51,"y":2.0,"z":0.99},
{"o":"e","k":99,"x":-5.73,"y":0,"z":0.72},
{"o":"e","k":100,"x":-5.83,"y":-2.12,"z":-0.12},
{"o":"e","k":101,"x":-5.48,"y":-4.6,"z":-0.81},
{"o":"e","k":102,"x":-4.15,"y":-7.19,"z":-0.77},
{"o":"e","k":103,"x":-1.62,"y":-9.18,"z":-0.03},
{"o":"e","k":104,"x":1.73,"y":-9.77,"z":0.78},
{"o":"e","k":105,"x":4.97,"y":-8.6,"z":0.97},
{"o":"e","k":106,"x":7.15,"y":-6.01,"z":0.37},
{"o":"e","k":107,"x":7.83,"y":-2.85,"z":-0.5},
{"o":"e","k":108,"x":7.19,"y":0,"z":-0.9},
{"o":"e","k":109,"x":5.86,"y":2.13,"z":-0.5},
{"o":"e","k":110,"x":4.39,"y":3.68,"z":0.37},
{"o":"e","k":111,"x":2.92,"y":5.06,"z":0.97},
{"o":"e","k":112,"x":1.14,"y":6.43,"z":0.78},
{"o":"e","k":113,"x":-1.32,"y":7.48,"z":-0.03},
{"o":"e","k":114,"x":-4.37,"y":7.56,"z":-0.77},
{"o":"e","k":115,"x":-7.36,"y":6.18,"z":-0.81},
{"o":"e","k":116,"x":-9.4,"y":3.42,"z":-0.12},
{"o":"e","k":117,"x":-9.77,"y":0,"z":0.72},
{"o":"e","k":118,"x":-8.45,"y":-3.07,"z":0.99},
{"o":"e","k":119,"x":-6.04,"y":-5.07,"z":0.45},
{"o":"e","k":120,"x":-3.39,"y":-5.87,"z":-0.43},
{"o":"e","k":121,"x":-1.04,"y":-5.88,"z":-0.9},
{"o":"e","k":122,"x":0.99,"y":-5.61,"z":-0.56},
{"o":"e","k":123,"x":3.03,"y":-5.24,"z":0.3},
{"o":"e","k":124,"x":5.29,"y":-4.44,"z":0.94},
{"o":"e","k":125,"x":7.56,"y":-2.75,"z":0.83},
{"o":"e","k":126,"x":9.11,"y":0,"z":0.05},
{"o":"e","k":127,"x":9.24,"y":3.36,"z":-0.73},
{"o":"e","k":128,"x":7.64,"y":6.42,"z":-0.84},
{"o":"e","k":129,"x":4.76,"y":8.24,"z":-0.2},
{"o":"e","k":130,"x":1.49,"y":8.46,"z":0.66},
{"o":"e","k":131,"x":-1.29,"y":7.33,"z":1.0},
{"o":"e","k":132,"x":-3.21,"y":5.55,"z":0.53},
{"o":"e","k":133,"x":-4.44,"y":3.72,"z":-0.35},
{"o":"e","k":134,"x":-5.41,"y":1.97,"z":-0.89},
{"o":"e","k":135,"x":-6.33,"y":0,"z":-0.62},
{"o":"e","k":136,"x":-6.89,"y":-2.51,"z":0.22},
{"o":"e","k":137,"x":-6.5,"y":-5.45,"z":0.91},
{"o":"e","k":138,"x":-4.73,"y":-8.18,"z":0.87},
{"o":"e","k":139,"x":-1.73,"y":-9.81,"z":0.13},
{"o":"e","k":140,"x":1.72,"y":-9.72,"z":-0.68},
{"o":"e","k":141,"x":4.6,"y":-7.97,"z":-0.87},
{"o":"e","k":142,"x":6.24,"y":-5.24,"z":-0.27},
{"o":"e","k":143,"x":6.59,"y":-2.4,"z":0.6},
{"o":"e","k":144,"x":6.11,"y":0,"z":1.0}
]},
"hconcat": [
{
 "width": 215, "height": 230,
 "layer": [
  {"mark": {"type": "line", "interpolate": "catmull-rom", "strokeWidth": 1.5},
   "encoding": {
     "x": {"field": "x", "type": "quantitative", "scale": {"domain": [-21.7, 21.7], "nice": false, "zero": false}, "axis": {"title": "x [kpc]", "values": [-20, -10, 0, 10, 20], "labelFont": "Liberation Serif"}},
     "y": {"field": "y", "type": "quantitative", "scale": {"domain": [-23.3, 23.3], "nice": false, "zero": false}, "axis": {"title": "y [kpc]", "values": [-20, -10, 0, 10, 20], "labelFont": "Liberation Serif"}},
     "color": {"field": "o", "type": "nominal", "scale": {"domain": ["a", "b", "c", "d", "e"], "range": ["#1f77b4", "#ff7f0e", "#2ca02c", "#d62728", "#9467bd"]}, "legend": null},
     "order": {"field": "k", "type": "quantitative"}
   }},
  {"mark": {"type": "point", "opacity": 0},
   "encoding": {
     "x": {"field": "x", "type": "quantitative", "axis": {"orient": "top", "labels": false, "title": null, "values": [-20, -10, 0, 10, 20]}},
     "y": {"field": "y", "type": "quantitative", "axis": {"orient": "right", "labels": false, "title": null, "values": [-20, -10, 0, 10, 20]}}
   }}
 ],
 "resolve": {"axis": {"x": "independent", "y": "independent"}}
},
{
 "width": 215, "height": 230,
 "layer": [
  {"mark": {"type": "line", "interpolate": "catmull-rom", "strokeWidth": 1.5},
   "encoding": {
     "x": {"field": "x", "type": "quantitative", "scale": {"domain": [-21.7, 21.7], "nice": false, "zero": false}, "axis": {"title": "x [kpc]", "values": [-20, -10, 0, 10, 20], "labelFont": "Liberation Serif"}},
     "y": {"field": "z", "type": "quantitative", "scale": {"domain": [-23.3, 23.3], "nice": false, "zero": false}, "axis": {"title": "z [kpc]", "values": [-20, -10, 0, 10, 20], "labelFont": "Liberation Serif"}},
     "color": {"field": "o", "type": "nominal", "scale": {"domain": ["a", "b", "c", "d", "e"], "range": ["#1f77b4", "#ff7f0e", "#2ca02c", "#d62728", "#9467bd"]}, "legend": null},
     "order": {"field": "k", "type": "quantitative"}
   }},
  {"mark": {"type": "point", "opacity": 0},
   "encoding": {
     "x": {"field": "x", "type": "quantitative", "axis": {"orient": "top", "labels": false, "title": null, "values": [-20, -10, 0, 10, 20]}},
     "y": {"field": "z", "type": "quantitative", "axis": {"orient": "right", "labels": false, "title": null, "values": [-20, -10, 0, 10, 20]}}
   }}
 ],
 "resolve": {"axis": {"x": "independent", "y": "independent"}}
},
{
 "width": 215, "height": 230,
 "layer": [
  {"mark": {"type": "line", "interpolate": "catmull-rom", "strokeWidth": 1.5},
   "encoding": {
     "x": {"field": "y", "type": "quantitative", "scale": {"domain": [-21.7, 21.7], "nice": false, "zero": false}, "axis": {"title": "y [kpc]", "values": [-20, -10, 0, 10, 20], "labelFont": "Liberation Serif"}},
     "y": {"field": "z", "type": "quantitative", "scale": {"domain": [-23.3, 23.3], "nice": false, "zero": false}, "axis": {"title": "z [kpc]", "values": [-20, -10, 0, 10, 20], "labelFont": "Liberation Serif"}},
     "color": {"field": "o", "type": "nominal", "scale": {"domain": ["a", "b", "c", "d", "e"], "range": ["#1f77b4", "#ff7f0e", "#2ca02c", "#d62728", "#9467bd"]}, "legend": null},
     "order": {"field": "k", "type": "quantitative"}
   }},
  {"mark": {"type": "point", "opacity": 0},
   "encoding": {
     "x": {"field": "y", "type": "quantitative", "axis": {"orient": "top", "labels": false, "title": null, "values": [-20, -10, 0, 10, 20]}},
     "y": {"field": "z", "type": "quantitative", "axis": {"orient": "right", "labels": false, "title": null, "values": [-20, -10, 0, 10, 20]}}
   }}
 ],
 "resolve": {"axis": {"x": "independent", "y": "independent"}}
}
]
}
